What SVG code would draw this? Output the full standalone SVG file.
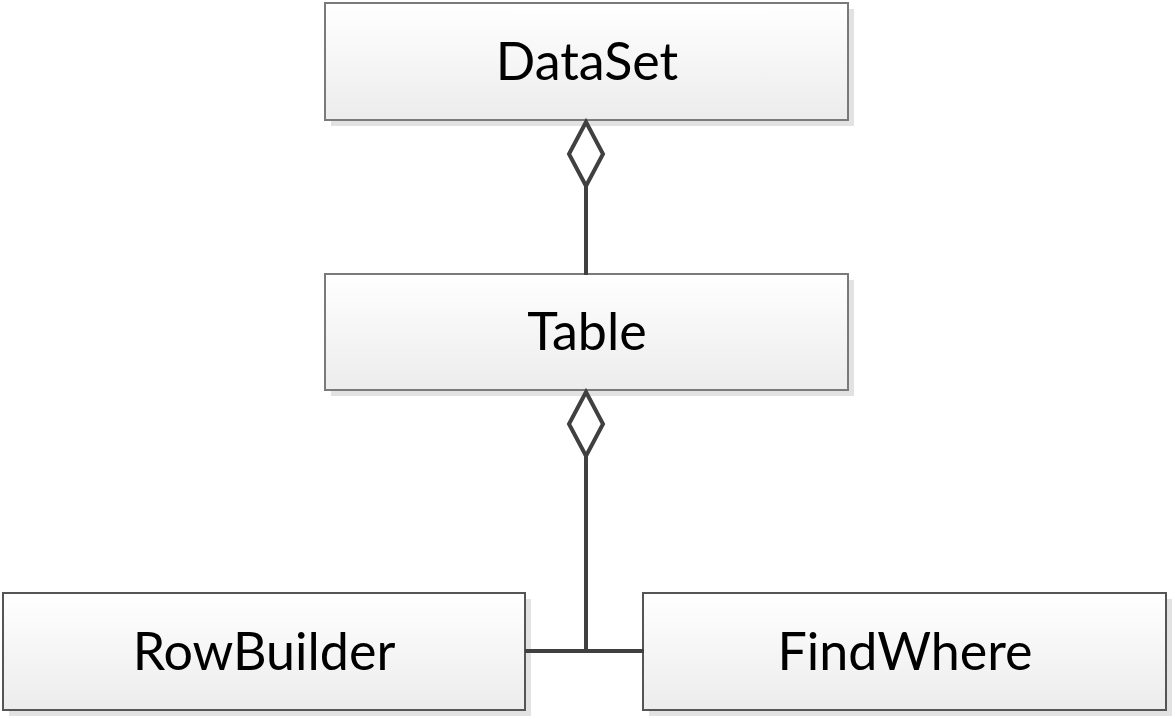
<svg xmlns="http://www.w3.org/2000/svg" width="1175" height="719" viewBox="0 0 1175 719">
<defs>
<linearGradient id="g" x1="0" y1="0" x2="0" y2="1">
<stop offset="0" stop-color="#ffffff"/>
<stop offset="1" stop-color="#ececec"/>
</linearGradient>
</defs>
<style>
.sh{fill:#e2e2e2}
.bx{fill:url(#g);stroke:#7a7a7a;stroke-width:2}
.bx2{fill:url(#g);stroke:#555555;stroke-width:2}
.t{font-family:Lato,"Open Sans",sans-serif;font-size:52px;fill:#000;text-anchor:middle}
.c{stroke:#404040;stroke-width:4;fill:none}
.d{stroke:#404040;stroke-width:4;fill:#ffffff;stroke-linejoin:miter}
</style>
<rect width="1175" height="719" fill="#ffffff"/>
<g id="dataset">
<rect class="sh" x="331" y="9" width="523" height="117"/>
<rect class="bx" x="325" y="3" width="523" height="117"/>
<text class="t" x="587" y="80">DataSet</text>
</g>
<g id="table">
<rect class="sh" x="331" y="280" width="523" height="116"/>
<rect class="bx" x="325" y="274" width="523" height="116"/>
<text class="t" x="587" y="350">Table</text>
</g>
<g id="rowbuilder">
<rect class="sh" x="9" y="599" width="522" height="117"/>
<rect class="bx2" x="3" y="593" width="522" height="117"/>
<text class="t" x="264" y="670">RowBuilder</text>
</g>
<g id="findwhere">
<rect class="sh" x="649" y="599" width="523" height="117"/>
<rect class="bx2" x="643" y="593" width="523" height="117"/>
<text class="t" x="905" y="670">FindWhere</text>
</g>
<g id="connectors">
<line class="c" x1="586" y1="185" x2="586" y2="275"/>
<path class="d" d="M586 122 L603 154 L586 186 L569 154 Z"/>
<line class="c" x1="586" y1="456" x2="586" y2="651"/>
<line class="c" x1="525" y1="651" x2="644" y2="651"/>
<path class="d" d="M586 392 L603 424 L586 456 L569 424 Z"/>
</g>
</svg>
